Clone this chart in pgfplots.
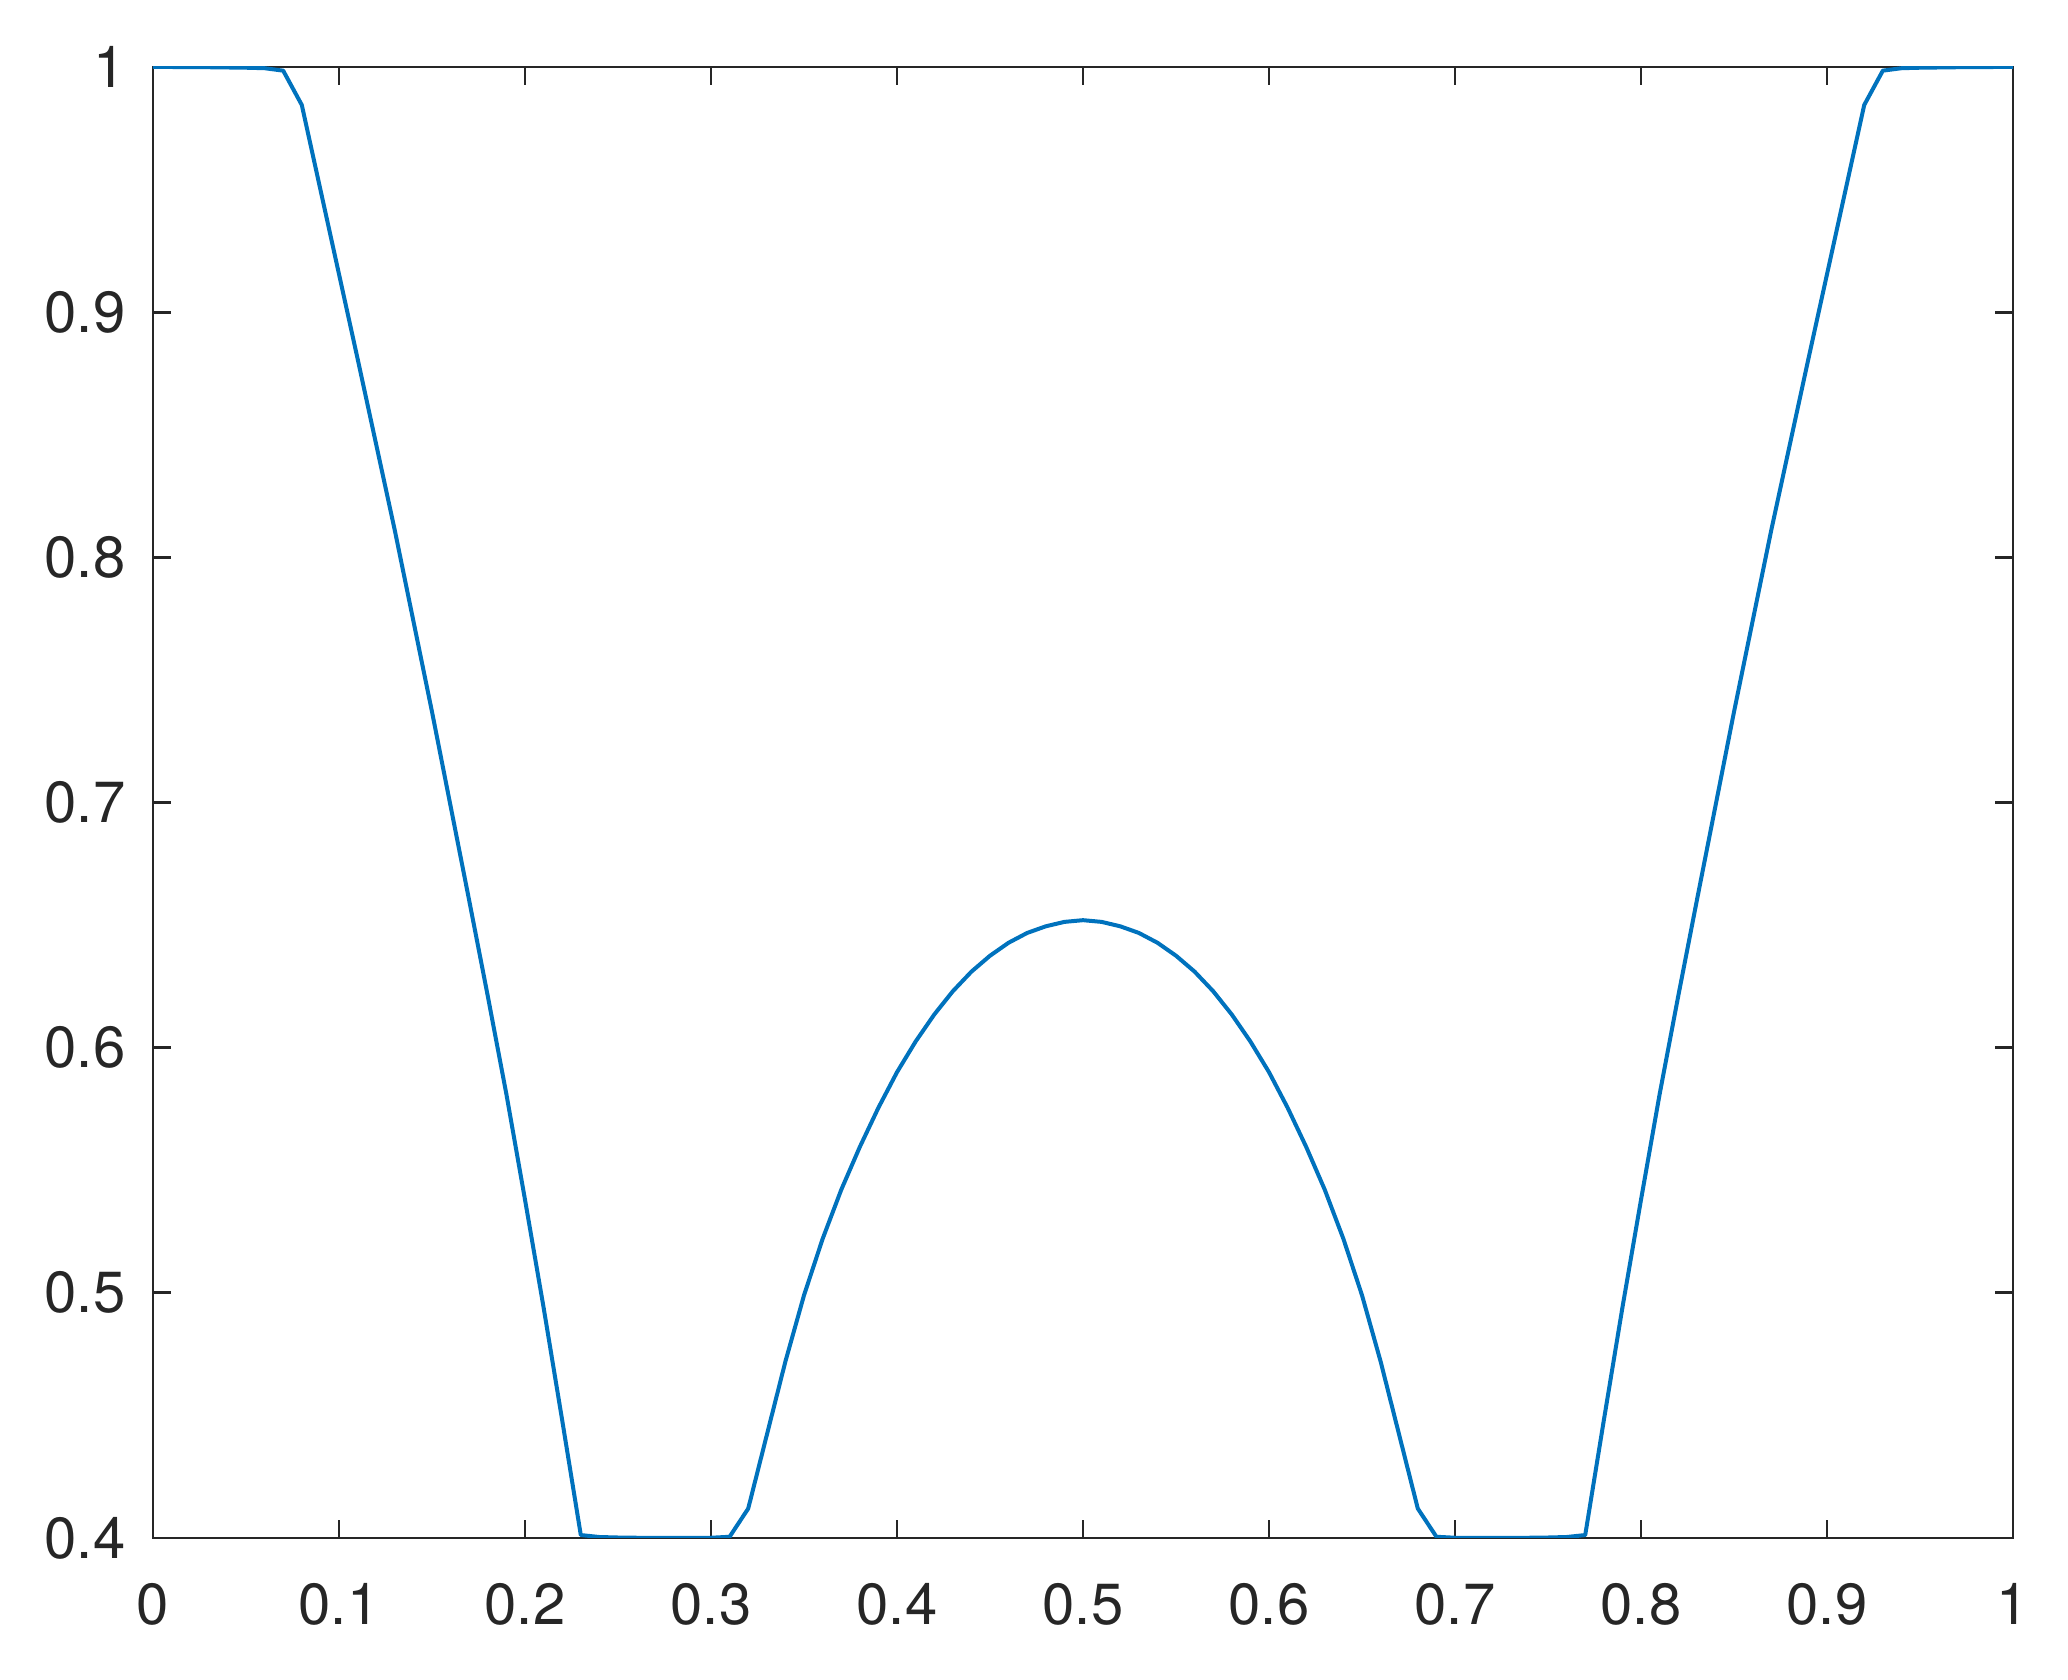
\documentclass[border=0pt]{standalone}
\usepackage{fontspec}
\setmainfont{TeX Gyre Heros}
\usepackage{pgfplots}
\pgfplotsset{compat=1.18}
\usetikzlibrary{calc}
\definecolor{mblue}{HTML}{0072BD}
\definecolor{axgray}{HTML}{262626}
\begin{document}
\begin{tikzpicture}
\begin{axis}[
  scale only axis,
  width=372pt, height=294.2pt,
  xmin=0, xmax=1, ymin=0.4, ymax=1,
  xtick={0,0.1,0.2,0.3,0.4,0.5,0.6,0.7,0.8,0.9,1},
  ytick={0.4,0.5,0.6,0.7,0.8,0.9,1},
  xticklabels={0,0.1,0.2,0.3,0.4,0.5,0.6,0.7,0.8,0.9,1},
  yticklabels={0.4,0.5,0.6,0.7,0.8,0.9,1},
  tick align=inside,
  major tick length=3.6pt,
  axis line style={axgray, line width=0.55pt},
  every tick/.style={axgray, line width=0.55pt},
  tick label style={font=\fontsize{11.6}{14}\selectfont, text=axgray},
  xticklabel style={yshift=-5.5pt},
  yticklabel style={xshift=-2pt},
  /pgf/number format/assume math mode=true,
]
\addplot[mblue, line width=0.8pt, line join=round] coordinates {
(0.00,1.0000) (0.01,1.0000) (0.02,0.9999) (0.03,0.9999) (0.04,0.9998)
(0.05,0.9997) (0.06,0.9995) (0.07,0.9985) (0.08,0.9845) (0.09,0.9500)
(0.10,0.9155) (0.11,0.8810) (0.12,0.8460) (0.13,0.8110) (0.14,0.7740)
(0.15,0.7370) (0.16,0.6985) (0.17,0.6600) (0.18,0.6210) (0.19,0.5810)
(0.20,0.5380) (0.21,0.4940) (0.22,0.4480) (0.23,0.4012) (0.24,0.4004)
(0.25,0.4002) (0.26,0.4001) (0.27,0.4000) (0.28,0.4000) (0.29,0.4000)
(0.30,0.4001) (0.31,0.4005) (0.32,0.4120) (0.33,0.4420) (0.34,0.4720)
(0.35,0.4990) (0.36,0.5220) (0.37,0.5420) (0.38,0.5595) (0.39,0.5755)
(0.40,0.5900) (0.41,0.6025) (0.42,0.6135) (0.43,0.6230) (0.44,0.6310)
(0.45,0.6375) (0.46,0.6428) (0.47,0.6468) (0.48,0.6495) (0.49,0.6513)
(0.50,0.6520)
(0.51,0.6513) (0.52,0.6495) (0.53,0.6468) (0.54,0.6428) (0.55,0.6375)
(0.56,0.6310) (0.57,0.6230) (0.58,0.6135) (0.59,0.6025) (0.60,0.5900)
(0.61,0.5755) (0.62,0.5595) (0.63,0.5420) (0.64,0.5220) (0.65,0.4990)
(0.66,0.4720) (0.67,0.4420) (0.68,0.4120) (0.69,0.4005) (0.70,0.4001)
(0.71,0.4000) (0.72,0.4000) (0.73,0.4000) (0.74,0.4001) (0.75,0.4002)
(0.76,0.4004) (0.77,0.4012) (0.78,0.4480) (0.79,0.4940) (0.80,0.5380)
(0.81,0.5810) (0.82,0.6210) (0.83,0.6600) (0.84,0.6985) (0.85,0.7370)
(0.86,0.7740) (0.87,0.8110) (0.88,0.8460) (0.89,0.8810) (0.90,0.9155)
(0.91,0.9500) (0.92,0.9845) (0.93,0.9985) (0.94,0.9995) (0.95,0.9997)
(0.96,0.9998) (0.97,0.9999) (0.98,0.9999) (0.99,1.0000) (1.00,1.0000)
};
\end{axis}
\path[use as bounding box] ($(current axis.south west)+(-30.6pt,-28.4pt)$) rectangle ($(current axis.north east)+(11pt,13.4pt)$);
\end{tikzpicture}
\end{document}
